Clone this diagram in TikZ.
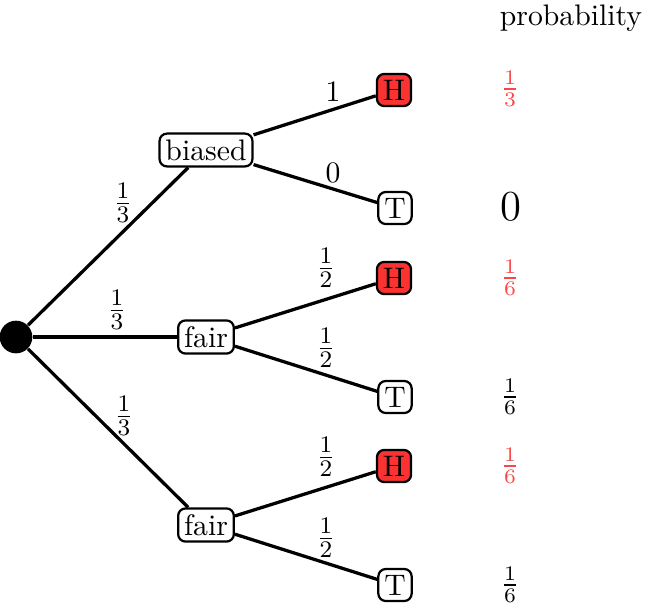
\documentclass[tikz,border=0pt]{standalone}
\definecolor{hred}{RGB}{250,50,50}
\definecolor{pred}{RGB}{250,70,70}
\begin{document}
\begin{tikzpicture}[x=0.3367pt,y=-0.3367pt,
  box/.style={draw,line width=0.75pt,rounded corners=2.5pt,inner sep=2pt,fill=white},
  headbox/.style={box,fill=hred},
  edge/.style={line width=1.1pt},
  lbl/.style={inner sep=0pt},
  elbl/.style={inner sep=0pt,font=\fontsize{11}{13}\selectfont}]
\useasboundingbox (0,0) rectangle (656,613);
\node[circle,fill=black,minimum size=11pt,inner sep=0pt] (root) at (16,337) {};
\node[box] (b) at (206,150) {biased};
\node[box] (f1) at (206,337) {fair};
\node[box] (f2) at (206,525) {fair};
\node[headbox] (h1) at (394,90) {H};
\node[box] (t1) at (395,208) {T};
\node[headbox] (h2) at (394,278) {H};
\node[box] (t2) at (395,397) {T};
\node[headbox] (h3) at (394,466) {H};
\node[box] (t3) at (395,585) {T};
\draw[edge] (root) -- (b);
\draw[edge] (root) -- (f1);
\draw[edge] (root) -- (f2);
\draw[edge] (b) -- (h1);
\draw[edge] (b) -- (t1);
\draw[edge] (f1) -- (h2);
\draw[edge] (f1) -- (t2);
\draw[edge] (f2) -- (h3);
\draw[edge] (f2) -- (t3);
\node[elbl] (l1) at (123,203) {$\frac{1}{3}$};
\node[elbl] (l2) at (117,310) {$\frac{1}{3}$};
\node[elbl] (l3) at (124,416) {$\frac{1}{3}$};
\node[lbl] (l4) at (333,92) {1};
\node[lbl] (l5) at (333,173) {0};
\node[elbl] (l6) at (326,268) {$\frac{1}{2}$};
\node[elbl] (l7) at (326,348) {$\frac{1}{2}$};
\node[elbl] (l8) at (326,457) {$\frac{1}{2}$};
\node[elbl] (l9) at (326,538) {$\frac{1}{2}$};
\node[lbl] (ph) at (571,18) {probability};
\node[lbl,text=pred] (p1) at (510,89) {$\frac{1}{3}$};
\node[lbl,font=\Large] (p2) at (511,207) {0};
\node[lbl,text=pred] (p3) at (510,278) {$\frac{1}{6}$};
\node[lbl] (p4) at (510,397) {$\frac{1}{6}$};
\node[lbl,text=pred] (p5) at (510,466) {$\frac{1}{6}$};
\node[lbl] (p6) at (510,585) {$\frac{1}{6}$};
\end{tikzpicture}
\end{document}
